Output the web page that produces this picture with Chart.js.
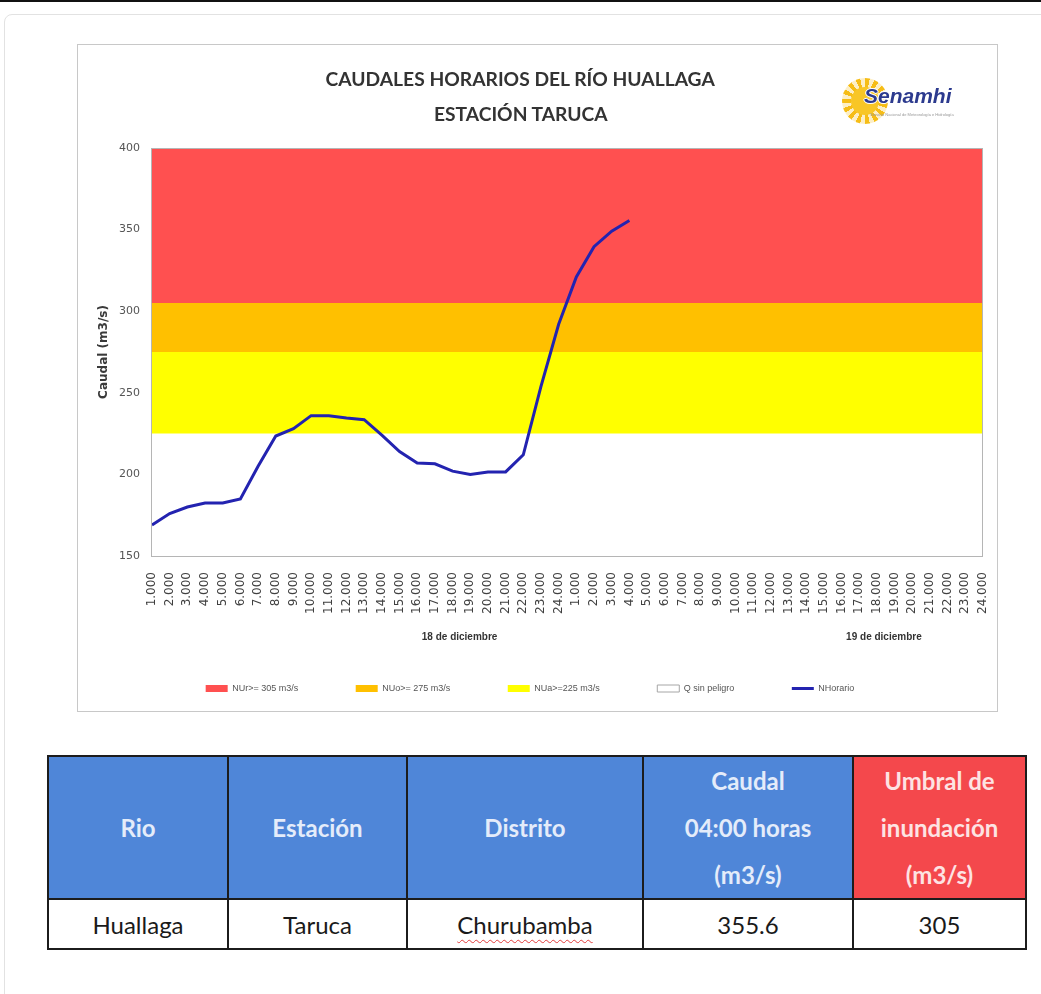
<!DOCTYPE html>
<html>
<head>
<meta charset="utf-8">
<script src="https://cdn.jsdelivr.net/npm/chart.js@4.4.1/dist/chart.umd.min.js"></script>
<style>
  html, body { margin: 0; padding: 0; background: #fff; }
  body { width: 1041px; height: 994px; position: relative; overflow: hidden; font-family: Lato, "Open Sans", sans-serif; }
  .topbar { position: absolute; left: 0; top: 0; width: 1041px; height: 2px; background: #111; }
  .card { position: absolute; left: 4px; top: 14px; width: 1060px; height: 1000px; border: 1px solid #e2e2e2; border-radius: 8px; }
  .frame { position: absolute; left: 77px; top: 44px; width: 921px; height: 668px; box-sizing: border-box; border: 1px solid #c8c8c8; background: #fff; }
  #grafico { position: absolute; left: 77px; top: 44px; }
  .titulo { position: absolute; left: 0; width: 1041px; text-align: center; pointer-events: none; }
  .titulo span { display: inline-block; font-weight: 700; font-size: 19px; color: #333; white-space: nowrap; transform-origin: center; }
  .logo { position: absolute; left: 836px; top: 74px; width: 130px; height: 60px; }
  .sol { position: absolute; left: 6px; top: 4px; width: 46px; height: 46px; border-radius: 50%;
         background: repeating-conic-gradient(#f6bd16 0deg 12deg, rgba(246,189,22,0.25) 12deg 24deg); }
  .sol::after { content: ""; position: absolute; left: 9px; top: 9px; width: 28px; height: 28px; border-radius: 50%; background: #f8c626; }
  .logo .marca { position: absolute; left: 28px; top: 10px; font: italic 700 21px "Liberation Sans", Arial, sans-serif; color: #2c3a8e;
                 text-shadow: 1px 0 #fff, -1px 0 #fff, 0 1px #fff, 0 -1px #fff; }
  .logo .sub { position: absolute; left: 34px; top: 38px; font: 4px "Liberation Sans", Arial, sans-serif; color: #999; white-space: nowrap; }
  table.datos { position: absolute; left: 47px; top: 755px; border-collapse: collapse; table-layout: fixed; }
  table.datos th, table.datos td { border: 2px solid #1c1c1c; text-align: center; padding: 0; }
  table.datos th { background: #4f86d8; color: #e4ecfa; font-weight: 700; font-size: 24px; line-height: 47px; height: 140px; }
  table.datos th.umbral { background: #f4484c; color: #fde3e3; }
  table.datos td { height: 48px; font-size: 24px; color: #1a1a1a; }
  .subrayado { text-decoration: underline wavy #e23b3b; text-decoration-thickness: 1px; text-underline-offset: 5px; }
</style>
</head>
<body>
<div class="topbar"></div>
<div class="card"></div>
<div class="frame"></div>
<canvas id="grafico" width="921" height="668"></canvas>
<div class="titulo" style="top:67px"><span id="t1">CAUDALES HORARIOS DEL RÍO HUALLAGA</span></div>
<div class="titulo" style="top:102px"><span id="t2">ESTACIÓN TARUCA</span></div>
<div class="logo">
  <div class="sol"></div>
  <div class="marca">Senamhi</div>
  <div class="sub">Servicio Nacional de Meteorología e Hidrología</div>
</div>
<table class="datos" id="tabla"></table>

<script>
// horas del eje (se repiten para los dos dias)
const horas = ['1.000', '2.000', '3.000', '4.000', '5.000', '6.000', '7.000', '8.000', '9.000', '10.000', '11.000', '12.000',
               '13.000', '14.000', '15.000', '16.000', '17.000', '18.000', '19.000', '20.000', '21.000', '22.000', '23.000', '24.000'];
const dias = ['18 de diciembre', '19 de diciembre'];

// caudal horario (m3/s), 18 dic 1:00 -> 19 dic 4:00
const caudalHorario = [169, 176, 180, 182.5, 182.5, 185, 205, 223.5, 228, 236, 236, 234.5, 233.5, 224,
                       214, 207, 206.5, 202, 200, 201.5, 201.5, 212, 254, 292, 321, 339.5, 349, 355.6];

// umbrales de alerta
const umbralRojo = 305;
const umbralNaranja = 275;
const umbralAmarillo = 225;
const yMin = 150;
const yMax = 400;
const yPaso = 50;

const nombresSeries = ['NUr>= 305 m3/s', 'NUo>= 275 m3/s', 'NUa>=225 m3/s', 'Q sin peligro', 'NHorario'];
const coloresSeries = ['#ff5050', '#ffc000', '#ffff00', '#ffffff', '#2323b0'];

// tabla resumen
const encabezados = ['Rio', 'Estación', 'Distrito', 'Caudal<br>04:00 horas<br>(m3/s)', 'Umbral de<br>inundación<br>(m3/s)'];
const fila = ['Huallaga', 'Taruca', 'Churubamba'];
const anchosColumna = [180, 179, 236, 210, 173];

const categorias = horas.concat(horas);
const etiquetasDia = categorias.map((h, i) => i === 17 ? dias[0] : (i === 41 ? dias[1] : ''));
const constante = v => categorias.map(() => v);

// marco del area de trazado
const marcoPlot = {
    id: 'marcoPlot',
    afterDraw(chart) {
        const a = chart.chartArea;
        const ctx = chart.ctx;
        ctx.save();
        ctx.strokeStyle = '#b5b5b5';
        ctx.lineWidth = 1;
        ctx.strokeRect(Math.round(a.left) - 0.5, Math.round(a.top) + 0.5, Math.round(a.right - a.left), Math.round(a.bottom - a.top));
        ctx.restore();
    }
};

const config = {
    type: 'line',
    data: {
        labels: categorias,
        datasets: [
            { label: nombresSeries[0], data: constante(yMax), fill: { value: umbralRojo }, backgroundColor: coloresSeries[0],
              borderWidth: 0, pointRadius: 0, pointStyle: 'rect', order: 2 },
            { label: nombresSeries[1], data: constante(umbralRojo), fill: { value: umbralNaranja }, backgroundColor: coloresSeries[1],
              borderWidth: 0, pointRadius: 0, pointStyle: 'rect', order: 2 },
            { label: nombresSeries[2], data: constante(umbralNaranja), fill: { value: umbralAmarillo }, backgroundColor: coloresSeries[2],
              borderWidth: 0, pointRadius: 0, pointStyle: 'rect', order: 2 },
            { label: nombresSeries[3], data: constante(umbralAmarillo), fill: 'start', backgroundColor: coloresSeries[3],
              borderWidth: 0, pointRadius: 0, pointStyle: 'rect', order: 2 },
            { label: nombresSeries[4], data: caudalHorario, fill: false, borderColor: coloresSeries[4], backgroundColor: coloresSeries[4],
              borderWidth: 3, pointRadius: 0, pointStyle: 'line', tension: 0, order: 1 }
        ]
    },
    options: {
        responsive: false,
        animation: false,
        devicePixelRatio: 1,
        layout: { padding: { top: 104, left: 0, right: 15, bottom: 9 } },
        scales: {
            x: {
                type: 'category',
                offset: false,
                grid: { display: false, drawTicks: false },
                border: { display: false },
                ticks: { autoSkip: false, maxRotation: 90, minRotation: 90, padding: 16,
                         font: { family: 'DejaVu Sans', size: 12 }, color: '#404040' },
                afterFit(s) { s.height = 66; s.paddingLeft = 0; s.paddingRight = 0; }
            },
            x2: {
                type: 'category',
                labels: etiquetasDia,
                position: 'bottom',
                offset: false,
                grid: { display: false, drawTicks: false },
                border: { display: false },
                ticks: { autoSkip: false, maxRotation: 0, minRotation: 0, padding: 9, labelOffset: 7,
                         font: { family: 'Liberation Sans', size: 10, weight: 'bold' }, color: '#333' },
                afterFit(s) { s.height = 22; s.paddingLeft = 0; s.paddingRight = 0; }
            },
            y: {
                min: yMin,
                max: yMax,
                grid: { display: false, drawTicks: false },
                border: { display: false },
                ticks: { stepSize: yPaso, padding: 12, font: { family: 'DejaVu Sans', size: 11 }, color: '#555' },
                title: { display: true, text: 'Caudal (m3/s)', padding: { top: 20, bottom: 0 },
                         font: { family: 'DejaVu Sans', size: 12, weight: 'bold' }, color: '#3a3a3a' },
                afterFit(s) { s.width = 75; }
            }
        },
        plugins: {
            tooltip: { enabled: false },
            title: { display: false },
            legend: {
                position: 'bottom',
                labels: {
                    usePointStyle: true,
                    pointStyleWidth: 22,
                    boxWidth: 22,
                    boxHeight: 7,
                    padding: 40,
                    color: '#555',
                    font: { family: 'Liberation Sans', size: 9 },
                    generateLabels(chart) {
                        const items = Chart.defaults.plugins.legend.labels.generateLabels(chart);
                        items.forEach(it => {
                            if (it.datasetIndex === 3) { it.strokeStyle = '#a6a6a6'; it.lineWidth = 1; }
                            // separacion extra entre entradas (no en la ultima)
                            if (it.datasetIndex < 4) it.text = it.text + '       ';
                        });
                        return items.sort((a, b) => a.datasetIndex - b.datasetIndex);
                    }
                }
            }
        }
    },
    plugins: [marcoPlot]
};

new Chart(document.getElementById('grafico').getContext('2d'), config);

// titulo: se comprime como en el original
[['t1', 389], ['t2', 174]].forEach(([id, ancho]) => {
    const el = document.getElementById(id);
    el.style.transform = 'scaleX(' + (ancho / el.offsetWidth) + ')';
});

// tabla
const tabla = document.getElementById('tabla');
const colgroup = document.createElement('colgroup');
anchosColumna.forEach(w => { const c = document.createElement('col'); c.style.width = w + 'px'; colgroup.appendChild(c); });
tabla.appendChild(colgroup);
const trH = document.createElement('tr');
encabezados.forEach((txt, i) => {
    const th = document.createElement('th');
    th.innerHTML = txt;
    if (i === encabezados.length - 1) th.className = 'umbral';
    trH.appendChild(th);
});
tabla.appendChild(trH);
const trD = document.createElement('tr');
fila.concat([caudalHorario[caudalHorario.length - 1].toFixed(1), String(umbralRojo)]).forEach((txt, i) => {
    const td = document.createElement('td');
    if (i === 2) td.innerHTML = '<span class="subrayado">' + txt + '</span>';
    else td.textContent = txt;
    trD.appendChild(td);
});
tabla.appendChild(trD);
</script>
</body>
</html>
